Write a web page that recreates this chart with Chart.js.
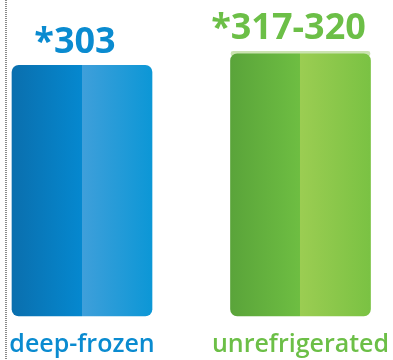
<!DOCTYPE html>
<html>
<head>
<meta charset="utf-8">
<script src="https://cdn.jsdelivr.net/npm/chart.js@4/dist/chart.umd.min.js"></script>
<style>
html,body{margin:0;padding:0;background:#fff;}
#wrap{position:relative;width:393px;height:360px;}
</style>
</head>
<body>
<div id="wrap"><canvas id="c" width="393" height="360"></canvas></div>
<script>
const categories = ['deep-frozen', 'unrefrigerated'];
const lowValues = [303, 317];
const highValues = [303, 320];
const valueLabels = ['*303', '*317-320'];

const palette = {
  text: ['#0a8bd0', '#6cbf47'],
  left: [['#0a6fae', '#0588cf'], ['#5aa43a', '#6ebe42']],
  right: [['#3f9fda', '#0c97d6'], ['#9bcd52', '#7ac243']],
  band: ['rgba(0,0,0,0)', 'rgba(175,212,135,0.65)']
};

const gradientPlugin = {
  id: 'gradients',
  beforeDatasetsDraw(chart) {
    const ctx = chart.ctx;
    const meta0 = chart.getDatasetMeta(0);
    meta0.data.forEach((el, i) => {
      const x0 = el.x - el.width / 2, x1 = el.x + el.width / 2;
      const g = ctx.createLinearGradient(x0, 0, x1, 0);
      g.addColorStop(0, palette.left[i][0]);
      g.addColorStop(0.5, palette.left[i][1]);
      g.addColorStop(0.5, palette.right[i][0]);
      g.addColorStop(1, palette.right[i][1]);
      el.options.backgroundColor = g;
    });
  },
  afterDatasetsDraw(chart) {
    const ctx = chart.ctx;
    ctx.save();
    ctx.strokeStyle = '#8a8a8a';
    ctx.lineWidth = 2;
    ctx.setLineDash([1, 1]);
    ctx.beginPath();
    ctx.moveTo(6, 0);
    ctx.lineTo(6, 360);
    ctx.stroke();
    ctx.setLineDash([]);
    const m0 = chart.getDatasetMeta(0), m1 = chart.getDatasetMeta(1);
    ctx.font = 'bold 36px "Open Sans", sans-serif';
    ctx.textAlign = 'center';
    ctx.textBaseline = 'alphabetic';
    const offs = [-7, -12];
    categories.forEach((c, i) => {
      const el = m0.data[i];
      const band = m1.data[i];
      const top = (band && band.y != null && !isNaN(band.y)) ? Math.min(band.y, el.y) : el.y;
      ctx.fillStyle = palette.text[i];
      ctx.fillText(valueLabels[i], el.x + offs[i], top - 12);
    });
    ctx.restore();
  }
};

new Chart(document.getElementById('c'), {
  type: 'bar',
  data: {
    labels: categories,
    datasets: [
      {
        data: lowValues,
        backgroundColor: palette.left.map(p => p[1]),
        borderRadius: 7,
        borderSkipped: false,
        barThickness: 140,
        grouped: false,
        clip: false,
        order: 1
      },
      {
        data: lowValues.map((v, i) => highValues[i] > v ? [v - 3, highValues[i]] : null),
        backgroundColor: palette.band,
        borderRadius: 7,
        borderSkipped: false,
        barThickness: 139,
        grouped: false,
        clip: false,
        order: 2
      }
    ]
  },
  options: {
    responsive: false,
    animation: false,
    events: [],
    layout: { padding: { left: 82, right: 92.5, top: 0, bottom: -13 } },
    plugins: { legend: { display: false }, tooltip: { enabled: false } },
    scales: {
      x: {
        offset: false,
        afterFit: (s) => { s.paddingLeft = 0; s.paddingRight = 0; },
        grid: { display: false, drawTicks: false },
        border: { display: false },
        ticks: {
          padding: 16,
          maxRotation: 0,
          autoSkip: false,
          font: { family: '"Open Sans", sans-serif', size: 25, weight: '600', lineHeight: 1.0 },
          color: (c) => palette.text[c.index]
        }
      },
      y: {
        display: false,
        min: 0,
        max: 382
      }
    }
  },
  plugins: [gradientPlugin]
});
</script>
</body>
</html>
